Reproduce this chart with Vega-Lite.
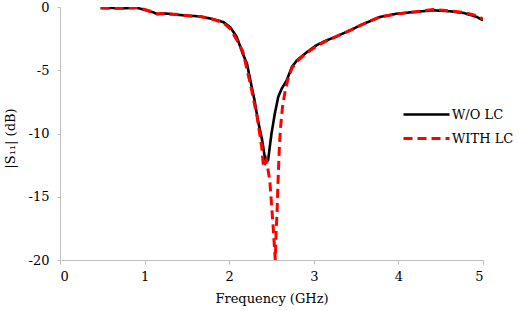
{
  "$schema": "https://vega.github.io/schema/vega-lite/v6.json",
  "width": 423,
  "height": 253,
  "autosize": {"type": "none"},
  "padding": {"left": 60, "top": 7, "right": 36, "bottom": 51},
  "background": "white",
  "config": {
    "view": {"stroke": null},
    "font": "DejaVu Serif",
    "axis": {"grid": false, "domainColor": "#BFBFBF", "tickColor": "#BFBFBF", "labelFont": "DejaVu Serif", "titleFont": "DejaVu Serif", "labelColor": "#000", "titleColor": "#000", "labelFontSize": 13, "titleFontSize": 13, "titleFontWeight": "normal"},
    "legend": {"labelFont": "DejaVu Serif"}
  },
  "data": {"values": [
    {"f": 0.48, "s": -0.08, "series": "W/O LC"},
    {"f": 0.6, "s": -0.08, "series": "W/O LC"},
    {"f": 0.75, "s": -0.1, "series": "W/O LC"},
    {"f": 0.91, "s": -0.06, "series": "W/O LC"},
    {"f": 1.0, "s": -0.22, "series": "W/O LC"},
    {"f": 1.1, "s": -0.42, "series": "W/O LC"},
    {"f": 1.15, "s": -0.56, "series": "W/O LC"},
    {"f": 1.22, "s": -0.5, "series": "W/O LC"},
    {"f": 1.3, "s": -0.55, "series": "W/O LC"},
    {"f": 1.4, "s": -0.62, "series": "W/O LC"},
    {"f": 1.54, "s": -0.7, "series": "W/O LC"},
    {"f": 1.655, "s": -0.74, "series": "W/O LC"},
    {"f": 1.8, "s": -0.95, "series": "W/O LC"},
    {"f": 1.93, "s": -1.19, "series": "W/O LC"},
    {"f": 2.01, "s": -1.58, "series": "W/O LC"},
    {"f": 2.09, "s": -2.37, "series": "W/O LC"},
    {"f": 2.16, "s": -3.69, "series": "W/O LC"},
    {"f": 2.21, "s": -4.48, "series": "W/O LC"},
    {"f": 2.25, "s": -5.8, "series": "W/O LC"},
    {"f": 2.3, "s": -7.39, "series": "W/O LC"},
    {"f": 2.34, "s": -8.97, "series": "W/O LC"},
    {"f": 2.39, "s": -10.55, "series": "W/O LC"},
    {"f": 2.42, "s": -11.85, "series": "W/O LC"},
    {"f": 2.435, "s": -12.27, "series": "W/O LC"},
    {"f": 2.46, "s": -12.1, "series": "W/O LC"},
    {"f": 2.5, "s": -10.0, "series": "W/O LC"},
    {"f": 2.54, "s": -8.4, "series": "W/O LC"},
    {"f": 2.58, "s": -7.1, "series": "W/O LC"},
    {"f": 2.62, "s": -6.46, "series": "W/O LC"},
    {"f": 2.68, "s": -5.8, "series": "W/O LC"},
    {"f": 2.74, "s": -4.75, "series": "W/O LC"},
    {"f": 2.8, "s": -4.22, "series": "W/O LC"},
    {"f": 2.92, "s": -3.56, "series": "W/O LC"},
    {"f": 3.03, "s": -3.03, "series": "W/O LC"},
    {"f": 3.15, "s": -2.64, "series": "W/O LC"},
    {"f": 3.27, "s": -2.32, "series": "W/O LC"},
    {"f": 3.43, "s": -1.84, "series": "W/O LC"},
    {"f": 3.55, "s": -1.45, "series": "W/O LC"},
    {"f": 3.78, "s": -0.79, "series": "W/O LC"},
    {"f": 3.98, "s": -0.53, "series": "W/O LC"},
    {"f": 4.18, "s": -0.4, "series": "W/O LC"},
    {"f": 4.41, "s": -0.26, "series": "W/O LC"},
    {"f": 4.61, "s": -0.34, "series": "W/O LC"},
    {"f": 4.77, "s": -0.47, "series": "W/O LC"},
    {"f": 4.93, "s": -0.79, "series": "W/O LC"},
    {"f": 5.0, "s": -1.05, "series": "W/O LC"},

    {"f": 0.48, "s": -0.08, "series": "WITH LC"},
    {"f": 0.6, "s": -0.1, "series": "WITH LC"},
    {"f": 0.75, "s": -0.1, "series": "WITH LC"},
    {"f": 0.91, "s": -0.06, "series": "WITH LC"},
    {"f": 1.0, "s": -0.2, "series": "WITH LC"},
    {"f": 1.1, "s": -0.4, "series": "WITH LC"},
    {"f": 1.15, "s": -0.55, "series": "WITH LC"},
    {"f": 1.22, "s": -0.52, "series": "WITH LC"},
    {"f": 1.3, "s": -0.55, "series": "WITH LC"},
    {"f": 1.4, "s": -0.6, "series": "WITH LC"},
    {"f": 1.54, "s": -0.72, "series": "WITH LC"},
    {"f": 1.655, "s": -0.76, "series": "WITH LC"},
    {"f": 1.8, "s": -0.95, "series": "WITH LC"},
    {"f": 1.93, "s": -1.25, "series": "WITH LC"},
    {"f": 2.01, "s": -1.7, "series": "WITH LC"},
    {"f": 2.09, "s": -2.6, "series": "WITH LC"},
    {"f": 2.16, "s": -3.5, "series": "WITH LC"},
    {"f": 2.25, "s": -6.07, "series": "WITH LC"},
    {"f": 2.33, "s": -8.7, "series": "WITH LC"},
    {"f": 2.385, "s": -11.08, "series": "WITH LC"},
    {"f": 2.405, "s": -12.67, "series": "WITH LC"},
    {"f": 2.44, "s": -12.1, "series": "WITH LC"},
    {"f": 2.48, "s": -13.72, "series": "WITH LC"},
    {"f": 2.5, "s": -15.56, "series": "WITH LC"},
    {"f": 2.52, "s": -17.4, "series": "WITH LC"},
    {"f": 2.535, "s": -19.0, "series": "WITH LC"},
    {"f": 2.545, "s": -20.0, "series": "WITH LC"},
    {"f": 2.555, "s": -17.7, "series": "WITH LC"},
    {"f": 2.565, "s": -16.35, "series": "WITH LC"},
    {"f": 2.575, "s": -14.25, "series": "WITH LC"},
    {"f": 2.585, "s": -12.4, "series": "WITH LC"},
    {"f": 2.595, "s": -10.8, "series": "WITH LC"},
    {"f": 2.61, "s": -9.3, "series": "WITH LC"},
    {"f": 2.63, "s": -7.9, "series": "WITH LC"},
    {"f": 2.66, "s": -6.7, "series": "WITH LC"},
    {"f": 2.69, "s": -5.8, "series": "WITH LC"},
    {"f": 2.74, "s": -4.85, "series": "WITH LC"},
    {"f": 2.8, "s": -4.3, "series": "WITH LC"},
    {"f": 2.92, "s": -3.6, "series": "WITH LC"},
    {"f": 3.03, "s": -3.1, "series": "WITH LC"},
    {"f": 3.15, "s": -2.68, "series": "WITH LC"},
    {"f": 3.27, "s": -2.32, "series": "WITH LC"},
    {"f": 3.43, "s": -1.84, "series": "WITH LC"},
    {"f": 3.55, "s": -1.45, "series": "WITH LC"},
    {"f": 3.78, "s": -0.79, "series": "WITH LC"},
    {"f": 3.98, "s": -0.55, "series": "WITH LC"},
    {"f": 4.18, "s": -0.4, "series": "WITH LC"},
    {"f": 4.41, "s": -0.2, "series": "WITH LC"},
    {"f": 4.61, "s": -0.3, "series": "WITH LC"},
    {"f": 4.77, "s": -0.42, "series": "WITH LC"},
    {"f": 4.93, "s": -0.7, "series": "WITH LC"},
    {"f": 5.0, "s": -0.95, "series": "WITH LC"}
  ]},
  "mark": {"type": "line", "clip": true},
  "encoding": {
    "x": {"field": "f", "type": "quantitative", "scale": {"domain": [0, 5], "nice": false},
      "axis": {"values": [0, 1, 2, 3, 4, 5], "title": "Frequency (GHz)", "tickSize": 4, "labelPadding": 6, "titlePadding": 9}},
    "y": {"field": "s", "type": "quantitative", "scale": {"domain": [-20, 0], "nice": false},
      "axis": {"values": [0, -5, -10, -15, -20], "labelExpr": "replace(datum.label, '−', '-')", "title": "|S₁₁| (dB)", "tickSize": 3, "labelPadding": 8, "titlePadding": 11, "titleY": 131}},
    "color": {"field": "series", "type": "nominal",
      "scale": {"domain": ["W/O LC", "WITH LC"], "range": ["#000000", "#FF0000"]},
      "legend": {"orient": "none", "legendX": 355, "legendY": 96, "title": null, "symbolType": "M-2.3,0H2.3", "symbolSize": 400, "symbolStrokeWidth": 3, "labelFontSize": 13, "labelFont": "DejaVu Serif", "labelColor": "#000", "rowPadding": 5, "labelOffset": 14}},
    "strokeDash": {"field": "series", "type": "nominal",
      "scale": {"domain": ["W/O LC", "WITH LC"], "range": [[1, 0], [9, 5]]}, "legend": null},
    "strokeWidth": {"field": "series", "type": "nominal",
      "scale": {"domain": ["W/O LC", "WITH LC"], "range": [2.6, 3]}, "legend": null}
  }
}
